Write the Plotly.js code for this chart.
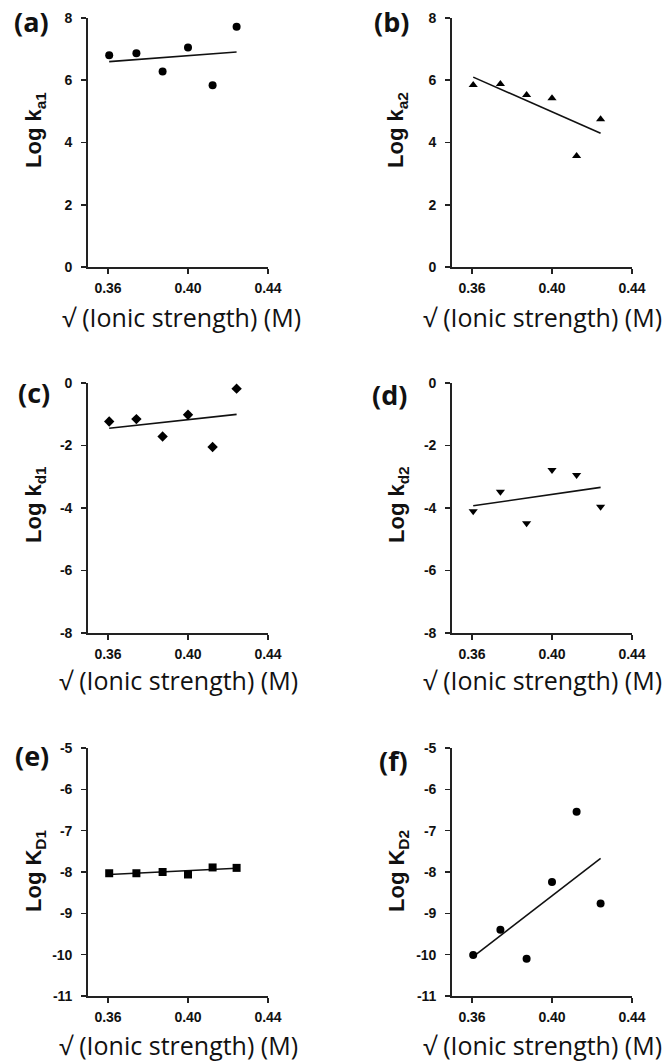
<!DOCTYPE html>
<html>
<head>
<meta charset="utf-8">
<script src="https://cdn.plot.ly/plotly-3.0.1.min.js"></script>
<style>html,body{margin:0;padding:0;background:#fff;}#chart{width:670px;height:1064px;}</style>
</head>
<body>
<div id="chart"></div>
<script>
// sqrt(ionic strength) values (M)
const sqrtI = [0.3606, 0.3742, 0.3873, 0.4000, 0.4123, 0.4243];
// series values
const logKa1 = [6.80, 6.87, 6.28, 7.05, 5.84, 7.72];
const logKa2 = [5.85, 5.88, 5.53, 5.42, 3.57, 4.75];
const logKd1 = [-1.23, -1.155, -1.71, -1.016, -2.05, -0.18];
const logKd2 = [-4.10, -3.48, -4.49, -2.78, -2.94, -3.96];
const logKD1 = [-8.03, -8.03, -8.00, -8.06, -7.89, -7.90];
const logKD2 = [-10.01, -9.40, -10.10, -8.24, -6.54, -8.76];
// linear trend lines (end points)
const fitX = [0.3606, 0.4243];
const fitKa1 = [6.60, 6.91];
const fitKa2 = [6.10, 4.30];
const fitKd1 = [-1.45, -1.005];
const fitKd2 = [-3.93, -3.34];
const fitKD1 = [-8.06, -7.91];
const fitKD2 = [-10.05, -7.67];
// tick labels
const xTicks = [0.36, 0.40, 0.44];
const xTickText = ['0.36', '0.40', '0.44'];
const yTicksA = [0, 2, 4, 6, 8];
const yTickTextA = ['0', '2', '4', '6', '8'];
const yTicksC = [-8, -6, -4, -2, 0];
const yTickTextC = ['-8', '-6', '-4', '-2', '0'];
const yTicksE = [-11, -10, -9, -8, -7, -6, -5];
const yTickTextE = ['-11', '-10', '-9', '-8', '-7', '-6', '-5'];
const panelLabels = ['(a)', '(b)', '(c)', '(d)', '(e)', '(f)'];
const yTitles = ['Log k<sub>a1</sub>', 'Log k<sub>a2</sub>', 'Log k<sub>d1</sub>', 'Log k<sub>d2</sub>', 'Log K<sub>D1</sub>', 'Log K<sub>D2</sub>'];
const xTitle = '\u221A (Ionic strength) (M)';

const W = 670, H = 1064;
const colPx = [[88, 268], [452, 632]];
const rowPx = [[18, 267], [383, 633], [748, 996]];
const yRanges = [[0, 8], [0, 8], [-8, 0], [-8, 0], [-11, -5], [-11, -5]];
const yTickVals = [yTicksA, yTicksA, yTicksC, yTicksC, yTicksE, yTicksE];
const yTickTexts = [yTickTextA, yTickTextA, yTickTextC, yTickTextC, yTickTextE, yTickTextE];
const series = [logKa1, logKa2, logKd1, logKd2, logKD1, logKD2];
const fits = [fitKa1, fitKa2, fitKd1, fitKd2, fitKD1, fitKD2];
const symbols = ['circle', 'triangle-up', 'diamond', 'triangle-down', 'square', 'circle'];

const bold = s => '<b>' + s + '</b>';
const data = [];
const layout = {
  width: W, height: H,
  margin: {l: 0, r: 0, t: 0, b: 0},
  paper_bgcolor: '#fff', plot_bgcolor: '#fff',
  showlegend: false,
  annotations: []
};
const tickFont = {family: 'Liberation Sans, Arial, sans-serif', size: 14, color: '#111'};

for (let i = 0; i < 6; i++) {
  const c = i % 2, r = Math.floor(i / 2);
  const xa = 'x' + (i === 0 ? '' : i + 1), ya = 'y' + (i === 0 ? '' : i + 1);
  const xk = 'xaxis' + (i === 0 ? '' : i + 1), yk = 'yaxis' + (i === 0 ? '' : i + 1);
  layout[xk] = {
    domain: [colPx[c][0] / W, colPx[c][1] / W],
    anchor: ya, range: [0.35, 0.44],
    tickvals: xTicks, ticktext: xTickText.map(bold),
    showline: true, linecolor: '#222', linewidth: 1.8,
    ticks: 'outside', ticklen: 5, tickwidth: 1.6, tickcolor: '#222',
    ticklabelstandoff: 2,
    showgrid: false, zeroline: false, fixedrange: true,
    tickfont: tickFont
  };
  layout[yk] = {
    domain: [1 - rowPx[r][1] / H, 1 - rowPx[r][0] / H],
    anchor: xa, range: yRanges[i],
    tickvals: yTickVals[i], ticktext: yTickTexts[i].map(bold),
    showline: true, linecolor: '#222', linewidth: 1.8,
    ticks: 'outside', ticklen: 5, tickwidth: 1.6, tickcolor: '#222',
    ticklabelstandoff: 6,
    showgrid: false, zeroline: false, fixedrange: true,
    tickfont: tickFont
  };
  data.push({
    x: fitX, y: fits[i], xaxis: xa, yaxis: ya, mode: 'lines',
    line: {color: '#111', width: 1.6}, hoverinfo: 'skip'
  });
  data.push({
    x: sqrtI, y: series[i], xaxis: xa, yaxis: ya, mode: 'markers',
    marker: {symbol: symbols[i], size: 8, color: '#000'}
  });
}

const panelPos = [[31, 22], [391, 22], [34, 392], [389, 395], [32, 755], [393, 760]];
const yTitlePos = [[35, 130], [397, 130], [35, 505], [398, 505], [35, 871], [398, 871]];
const xTitlePos = [[181, 317], [542, 317], [178, 680], [542, 680], [178, 1045], [542, 1045]];
for (let i = 0; i < 6; i++) {
  layout.annotations.push({
    xref: 'paper', yref: 'paper', x: panelPos[i][0] / W, y: 1 - panelPos[i][1] / H,
    xanchor: 'center', yanchor: 'middle', showarrow: false,
    text: bold(panelLabels[i]),
    font: {family: 'Open Sans, sans-serif', size: 27, color: '#111'}
  });
  layout.annotations.push({
    xref: 'paper', yref: 'paper', x: yTitlePos[i][0] / W, y: 1 - yTitlePos[i][1] / H,
    xanchor: 'center', yanchor: 'middle', showarrow: false, textangle: -90,
    text: bold(yTitles[i]),
    font: {family: 'Liberation Sans, Arial, sans-serif', size: 22, color: '#111'}
  });
  layout.annotations.push({
    xref: 'paper', yref: 'paper', x: xTitlePos[i][0] / W, y: 1 - xTitlePos[i][1] / H,
    xanchor: 'center', yanchor: 'middle', showarrow: false,
    text: xTitle,
    font: {family: 'Open Sans, sans-serif', size: 25, color: '#111'}
  });
}

Plotly.newPlot('chart', data, layout, {displayModeBar: false, staticPlot: true});
</script>
</body>
</html>
